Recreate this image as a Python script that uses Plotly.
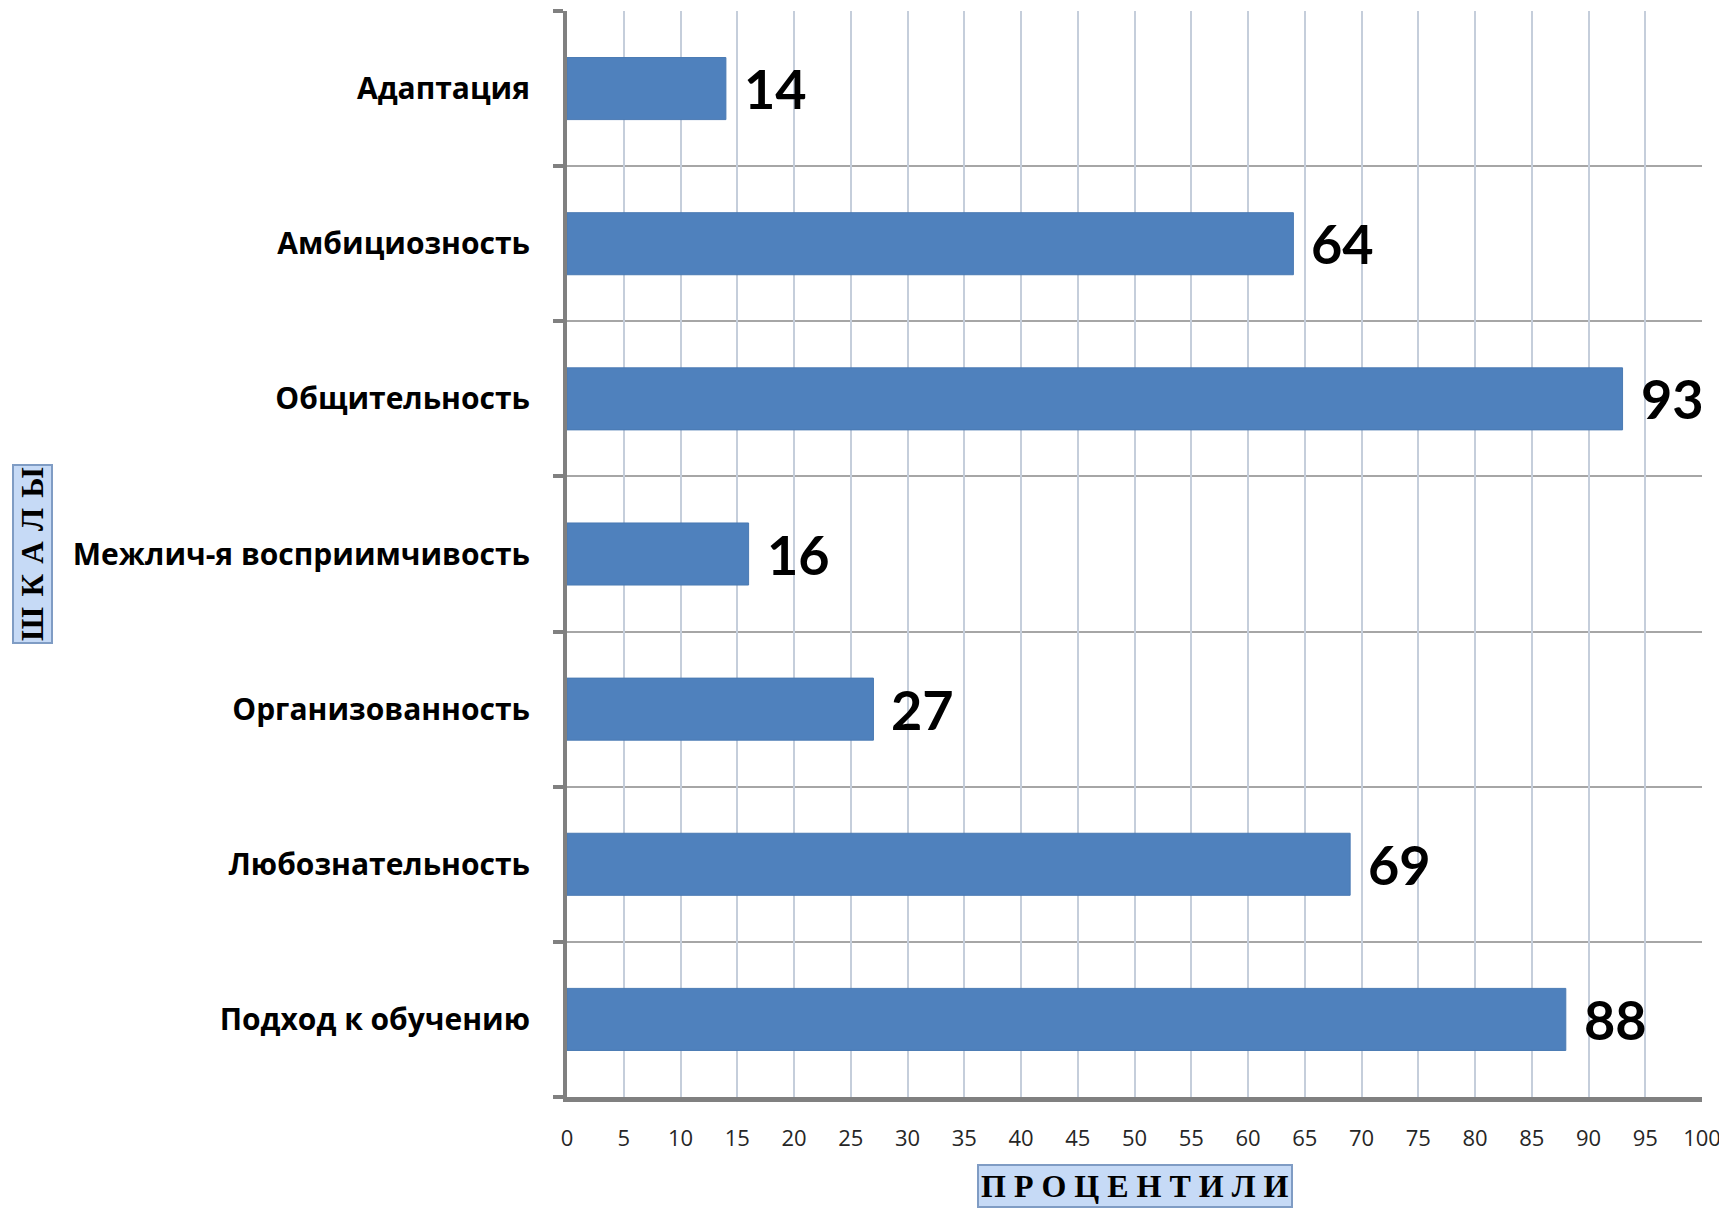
import plotly.graph_objects as go

categories = ["Адаптация", "Амбициозность", "Общительность", "Межлич-я восприимчивость",
              "Организованность", "Любознательность", "Подход к обучению"]
values = [14, 64, 93, 16, 27, 69, 88]
x_ticks = list(range(0, 101, 5))
x_title = "П Р О Ц Е Н Т И Л И"
y_title = "\u2004".join("ШКАЛЫ")

positions = list(range(len(categories)))

fig = go.Figure()
fig.add_trace(go.Bar(
    x=values, y=positions, orientation="h",
    marker=dict(color="#4f81bd", line=dict(color="#4a7ab3", width=1)),
    width=0.4, hoverinfo="x+y",
))

for v, p in zip(values, positions):
    fig.add_annotation(x=v, y=p, text=str(v), showarrow=False, xanchor="left",
                       xshift=16, yshift=0,
                       font=dict(family="Lato", size=54, color="#000000", weight="bold"))

fig.update_layout(
    width=1719, height=1203,
    margin=dict(l=559, r=25, t=3, b=114),
    plot_bgcolor="white", paper_bgcolor="white",
    showlegend=False,
    bargap=0.6,
)
fig.update_xaxes(
    range=[0, 100], tickvals=x_ticks, ticktext=[str(t) for t in x_ticks],
    showgrid=True, gridcolor="#c5cedb", gridwidth=2,
    showline=True, linecolor="#808080", linewidth=5,
    ticks="", ticklabelstandoff=18,
    tickfont=dict(family="Open Sans", size=22, color="#262626"),
    zeroline=False,
)
fig.update_yaxes(
    range=[len(categories) - 0.5, -0.5],
    tickvals=positions, ticktext=categories,
    showgrid=False,
    minor=dict(tick0=0.5, dtick=1, showgrid=True, gridcolor="#a6a6a6", gridwidth=1.5,
               ticks="outside", ticklen=10, tickwidth=4, tickcolor="#808080"),
    showline=True, linecolor="#808080", linewidth=4,
    ticks="", ticklabelstandoff=27,
    tickfont=dict(family="Open Sans", size=30, color="#000000", weight="bold"),
    zeroline=False,
)

fig.add_annotation(xref="paper", yref="paper", x=0.5, y=0, yshift=-67,
                   xanchor="center", yanchor="top",
                   text="<b>" + x_title + "</b>", showarrow=False,
                   font=dict(family="Liberation Serif", size=32, color="#000000"),
                   bgcolor="#c6daf6", bordercolor="#7f9cc4", borderwidth=2, borderpad=2)
fig.add_annotation(xref="paper", yref="paper", x=0, xshift=-535, y=0.5, yshift=0,
                   xanchor="center", yanchor="middle",
                   textangle=-90, text="<b>" + y_title + "</b>", showarrow=False,
                   font=dict(family="Liberation Serif", size=31, color="#000000"),
                   bgcolor="#c6daf6", bordercolor="#7f9cc4", borderwidth=2, borderpad=1)

fig.write_html("out.html")
